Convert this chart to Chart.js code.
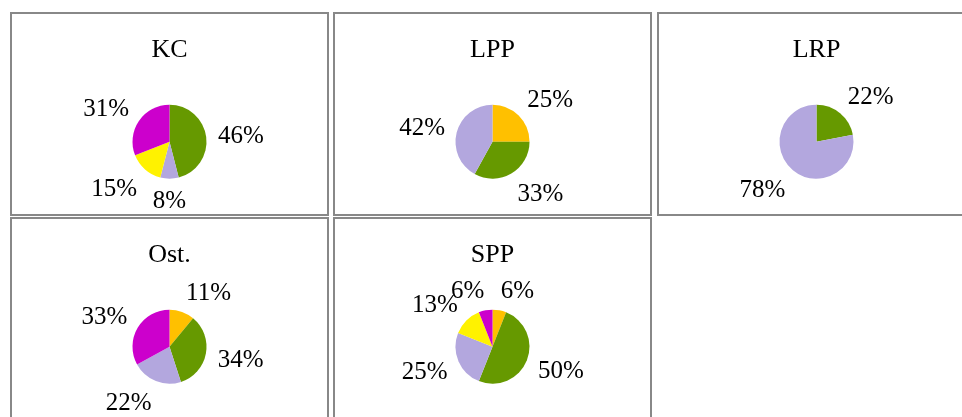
<!DOCTYPE html>
<html>
<head>
<meta charset="utf-8">
<script src="https://cdn.jsdelivr.net/npm/chart.js@4/dist/chart.umd.min.js"></script>
<style>
  html, body { margin: 0; padding: 0; background: #fff; }
  body { width: 962px; height: 417px; overflow: hidden; position: relative; }
  .panel { position: absolute; border: 2px solid #888; width: 315px; background: #fff; }
  .panel canvas { display: block; }
</style>
</head>
<body>
<div class="panel" style="left:10px; top:12px; height:200px;"><canvas id="kc" width="315" height="200"></canvas></div>
<div class="panel" style="left:333px; top:12px; height:200px;"><canvas id="lpp" width="315" height="200"></canvas></div>
<div class="panel" style="left:657px; top:12px; height:200px;"><canvas id="lrp" width="315" height="200"></canvas></div>
<div class="panel" style="left:10px; top:217px; height:240px;"><canvas id="ost" width="315" height="200"></canvas></div>
<div class="panel" style="left:333px; top:217px; height:240px;"><canvas id="spp" width="315" height="200"></canvas></div>

<script>
// categories are the same in every pie, zero shares get no slice and no label
const categories = ['1', '2', '3', '4', '5'];
const kcValues  = [0, 46, 8, 15, 31];
const lppValues = [25, 33, 42, 0, 0];
const lrpValues = [0, 22, 78, 0, 0];
const ostValues = [11, 34, 22, 0, 33];
const sppValues = [6, 50, 25, 13, 6];

const sliceColors = ['#ffc000', '#669900', '#b3a7de', '#fff200', '#cc00cc'];

const serif = 'Liberation Serif, "Times New Roman", serif';

// percent labels outside each slice, roughly like excel's "outside end"
const outsideLabels = {
    id: 'outsideLabels',
    afterDatasetsDraw(chart) {
        const ctx = chart.ctx;
        const values = chart.data.datasets[0].data;
        const meta = chart.getDatasetMeta(0);
        ctx.save();
        ctx.font = '25px ' + serif;
        ctx.fillStyle = '#000';
        ctx.textAlign = 'center';
        ctx.textBaseline = 'middle';
        meta.data.forEach((arc, i) => {
            if (!values[i]) return;
            const { x, y, startAngle, endAngle, outerRadius } = arc.getProps(['x', 'y', 'startAngle', 'endAngle', 'outerRadius'], true);
            const mid = (startAngle + endAngle) / 2;
            const dx = Math.cos(mid), dy = Math.sin(mid);
            const text = values[i] + '%';
            const w = ctx.measureText(text).width;
            const h = 18;
            const r = outerRadius + 12;
            const fx = Math.max(-1, Math.min(1, dx * 5));
            const fy = Math.max(-1, Math.min(1, dy * 1.3));
            ctx.fillText(text, x + r * dx + fx * w / 2, y + r * dy + fy * h / 2 + 2);
        });
        ctx.restore();
    }
};

const makePie = (id, title, values) => {
    new Chart(document.getElementById(id), {
        type: 'pie',
        data: {
            labels: categories,
            datasets: [{
                data: values,
                backgroundColor: sliceColors,
                borderWidth: 0
            }]
        },
        options: {
            responsive: false,
            animation: false,
            layout: { padding: { left: 120.5, right: 120.5, top: 0, bottom: 35.3 } },
            plugins: {
                legend: { display: false },
                tooltip: { enabled: false },
                title: {
                    display: true,
                    text: title,
                    color: '#000',
                    font: { family: serif, size: 26, weight: 'normal' },
                    padding: { top: 20.4, bottom: 39.1 }
                }
            }
        },
        plugins: [outsideLabels]
    });
};

makePie('kc', 'KC', kcValues);
makePie('lpp', 'LPP', lppValues);
makePie('lrp', 'LRP', lrpValues);
makePie('ost', 'Ost.', ostValues);
makePie('spp', 'SPP', sppValues);
</script>
</body>
</html>
